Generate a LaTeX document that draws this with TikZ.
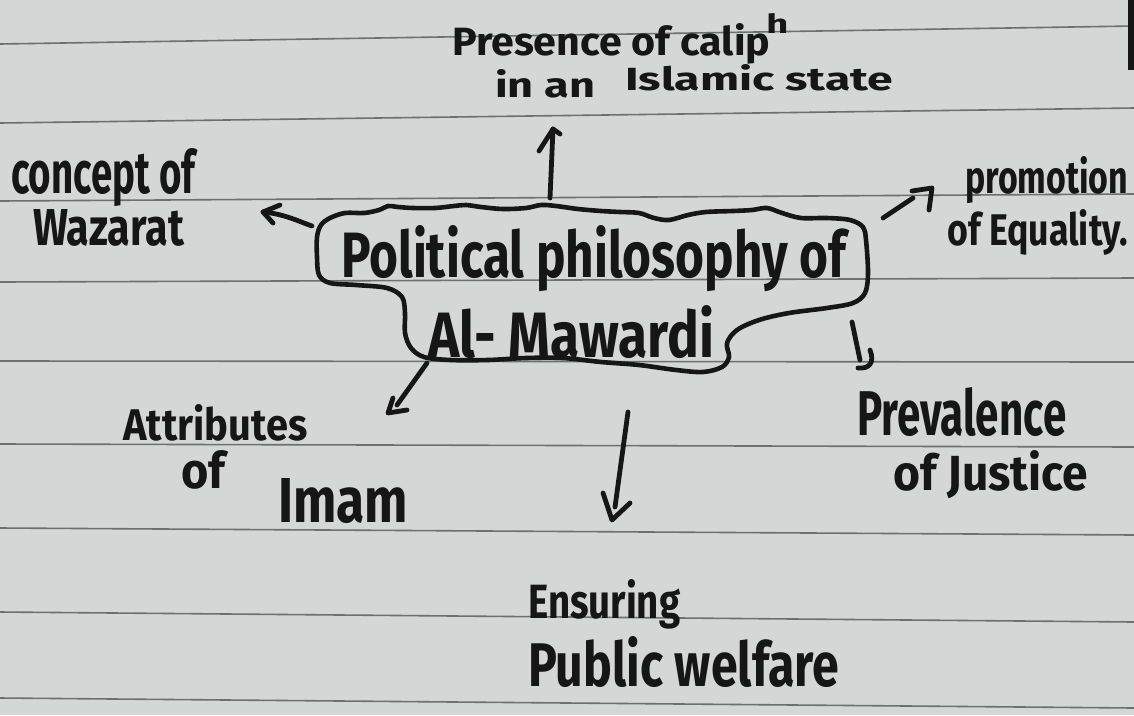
\documentclass[tikz,border=0pt]{standalone}
\usepackage{fontspec}
\setmainfont{Fira Sans}
\usepackage{graphicx}
\definecolor{paper}{RGB}{213,215,214}
\definecolor{rule}{RGB}{108,112,111}
\definecolor{ink}{RGB}{22,22,22}
\newcommand{\hw}[3]{\resizebox{#1pt}{#2pt}{#3}}
\begin{document}
\begin{tikzpicture}[x=1pt,y=-1pt,
  pen/.style={draw=ink,line width=4.8pt,line cap=round,line join=round},
  hand/.style={inner sep=0pt,anchor=base west,text=ink,font=\bfseries},
  ruling/.style={draw=rule,line width=1.6pt}]
\useasboundingbox (0,0) rectangle (1134,715);
\fill[paper] (0,0) rectangle (1134,715);

% ruled lines of the notebook page
\draw[ruling] (0,44) -- (1134,26);
\draw[ruling] (0,123) -- (1134,108);
\draw[ruling] (0,201) -- (1134,194);
\draw[ruling] (0,282) -- (1134,278);
\draw[ruling] (0,361) -- (1134,362);
\draw[ruling] (0,444) -- (1134,447);
\draw[ruling] (0,528) -- (1134,535);
\draw[ruling] (0,612) -- (1134,622);
\draw[ruling] (0,698) -- (1134,708);
% page edge at the top right
\fill[ink] (1128,0) rectangle (1134,70);

% central cloud outline
\draw[pen,line width=4.6pt] plot[smooth cycle,tension=0.55] coordinates {
  (321,225) (330,218) (345,213) (364,213) (379,210) (388,206) (398,207)
  (413,208) (435,208) (454,206) (466,205) (481,207) (503,209) (526,208)
  (541,205) (556,206) (578,209) (601,211) (620,212) (639,213) (654,218)
  (669,220) (688,215) (706,212) (733,211) (752,210) (767,208) (782,213)
  (801,218) (827,218) (850,220) (863,227) (866,240) (868,273) (865,293)
  (853,303) (827,308) (789,313) (759,320) (737,330) (727,343) (729,357)
  (722,367) (703,372) (676,370) (639,365) (601,362) (563,358) (526,358)
  (488,360) (450,360) (424,357) (411,348) (405,333) (405,313) (402,297)
  (387,288) (356,285) (330,283) (319,275) (317,257) (317,237)};
\node[hand] (title1) at (341,277) {\hw{505}{52}{Political philosophy of}};
\node[hand] (title2) at (428,357) {\hw{286}{52}{Al- Mawardi}};

% outer labels
\node[hand] (cal1) at (452,55) {\hw{318}{32}{Presence of calip}\hspace{-4pt}\raisebox{22pt}{\hw{22}{20}{h}}};
\node[hand] (cal2) at (495,97) {\hw{100}{28}{in an}\hspace{30pt}\raisebox{7pt}{\hw{268}{26}{Islamic state}}};
\node[hand] (waz1) at (11,193) {\hw{184}{45}{concept of}};
\node[hand] (waz2) at (33,245) {\hw{151}{36}{Wazarat}};
\node[hand] (eq1) at (965,193) {\hw{163}{37}{promotion}};
\node[hand] (eq2) at (947,245) {\hw{181}{36}{of Equality.}};
\node[hand] (jus1) at (857,435) {\hw{209}{48}{Prevalence}};
\node[hand] (jus2) at (893,490) {\hw{195}{40}{of Justice}};
\node[hand] (imm1) at (123,440) {\hw{184}{36}{Attributes}};
\node[hand] (imm2) at (181,488) {\hw{44}{38}{of}\hspace{53pt}\raisebox{-34pt}{\hw{130}{44}{Imam}}};
\node[hand] (wel1) at (528,618) {\hw{152}{39}{Ensuring}};
\node[hand] (wel2) at (528,686) {\hw{311}{50}{Public welfare}};

% arrow ends
\coordinate (sCal) at (550,198);  \coordinate (tCal) at (553,129);
\coordinate (sWaz) at (312,226);  \coordinate (tWaz) at (263,212);
\coordinate (sEq)  at (883,218);  \coordinate (tEq)  at (932,188);
\coordinate (sJus) at (852,322);  \coordinate (tJus) at (873,367);
\coordinate (sImm) at (427,363);  \coordinate (tImm) at (388,413);
\coordinate (sWel) at (628,412);  \coordinate (tWel) at (612,520);

% connectors
\draw[pen] (sCal) -- (tCal);
\draw[pen] ([shift={(-14,22)}]tCal) -- (tCal) -- ([shift={(7,5)}]tCal);

\draw[pen] (sWaz) .. controls (300,222) and (285,214) .. (tWaz);
\draw[pen] ([shift={(17,-7)}]tWaz) -- (tWaz) -- ([shift={(10,11)}]tWaz);

\draw[pen] (sEq) -- ([shift={(-19,10)}]tEq);
\draw[pen] ([shift={(-20,3)}]tEq) -- (tEq) -- ([shift={(-3,22)}]tEq);

\draw[pen] (sJus) -- ([shift={(-13,-7)}]tJus);
\draw[pen] ([shift={(-15,1)}]tJus) .. controls ([shift={(-4,2)}]tJus) and ([shift={(2,-4)}]tJus) .. ([shift={(-3,-17)}]tJus);

\draw[pen] (sImm) -- ([shift={(9,-8)}]tImm);
\draw[pen] ([shift={(5,-15)}]tImm) -- (tImm) -- ([shift={(19,-3)}]tImm);

\draw[pen] (sWel) -- ([shift={(3,-13)}]tWel);
\draw[pen] ([shift={(-9,-27)}]tWel) -- (tWel) -- ([shift={(18,-17)}]tWel);
\end{tikzpicture}
\end{document}
